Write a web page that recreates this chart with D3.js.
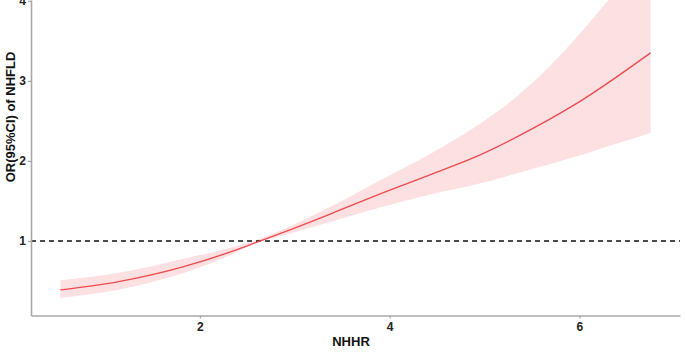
<!DOCTYPE html>
<html>
<head>
<meta charset="utf-8">
<script src="https://cdn.jsdelivr.net/npm/d3@7"></script>
<style>
  body { margin: 0; background: #fff; }
  svg { display: block; font-family: "Liberation Sans", Arial, sans-serif; }
</style>
</head>
<body>
<div id="chart"></div>
<script>
    // NHHR values along the curve and the fitted OR with its 95% CI
    const nhhr   = [0.53, 1.13, 1.83, 2.36, 2.59, 2.85, 3.38, 3.90, 4.43, 4.96, 5.50, 5.83, 6.04, 6.27, 6.75];
    const orFit  = [0.39, 0.49, 0.68, 0.88, 0.98, 1.095, 1.34, 1.59, 1.83, 2.08, 2.40, 2.62, 2.77, 2.95, 3.35];
    const ciLow  = [0.29, 0.39, 0.60, 0.845, 0.975, 1.06, 1.24, 1.42, 1.58, 1.72, 1.90, 2.01, 2.08, 2.17, 2.35];
    const ciHigh = [0.51, 0.60, 0.78, 0.93, 1.01, 1.13, 1.43, 1.76, 2.09, 2.47, 2.97, 3.36, 3.64, 3.96, 4.68];

    const xTicks = [2, 4, 6];
    const yTicks = [1, 2, 3, 4];
    const refLine = 1;

    const width = 685, height = 352;
    const plot = { left: 31, right: 680, top: 0, bottom: 315.5 };

    const rows = nhhr.map((x, i) => ({ x: x, or: orFit[i], lo: ciLow[i], hi: ciHigh[i] }));

    const svg = d3.select("#chart")
        .append("svg")
        .attr("width", width)
        .attr("height", height);

    const x = d3.scaleLinear().domain([0.22, 7.06]).range([plot.left, plot.right]);
    const y = d3.scaleLinear().domain([0.07, 4.01]).range([plot.bottom, plot.top]);

    svg.append("clipPath")
        .attr("id", "panel")
        .append("rect")
        .attr("x", plot.left)
        .attr("y", plot.top)
        .attr("width", plot.right - plot.left)
        .attr("height", plot.bottom - plot.top);

    const panel = svg.append("g").attr("clip-path", "url(#panel)");

    // CI ribbon
    panel.append("path")
        .datum(rows)
        .attr("fill", "#FDE0E2")
        .attr("d", d3.area()
            .curve(d3.curveMonotoneX)
            .x(d => x(d.x))
            .y0(d => y(d.lo))
            .y1(d => y(d.hi)));

    // reference line at OR = 1
    panel.append("line")
        .attr("x1", plot.left)
        .attr("x2", plot.right)
        .attr("y1", y(refLine))
        .attr("y2", y(refLine))
        .attr("stroke", "#111")
        .attr("stroke-width", 1.5)
        .attr("stroke-dasharray", "5,4");

    // fitted curve
    panel.append("path")
        .datum(rows)
        .attr("fill", "none")
        .attr("stroke", "#EE4B50")
        .attr("stroke-width", 1.4)
        .attr("d", d3.line()
            .curve(d3.curveMonotoneX)
            .x(d => x(d.x))
            .y(d => y(d.or)));

    // axes
    const xAxis = svg.append("g")
        .attr("transform", `translate(0,${plot.bottom})`)
        .call(d3.axisBottom(x).tickValues(xTicks).tickFormat(d3.format("d"))
            .tickSize(3).tickPadding(4).tickSizeOuter(0));

    const yAxis = svg.append("g")
        .attr("transform", `translate(${plot.left},0)`)
        .call(d3.axisLeft(y).tickValues(yTicks).tickFormat(d3.format("d"))
            .tickSize(3).tickPadding(2).tickSizeOuter(0));

    [xAxis, yAxis].forEach(g => {
        g.select(".domain").attr("stroke", "#A8A8A8").attr("stroke-width", 1.6);
        g.selectAll(".tick line").attr("stroke", "#A8A8A8").attr("stroke-width", 1.2);
        g.selectAll(".tick text")
            .attr("fill", "#222")
            .style("font-family", "Liberation Sans, Arial, sans-serif")
            .style("font-size", "12px")
            .style("font-weight", "bold");
    });

    // axis titles
    svg.append("text")
        .attr("x", 351)
        .attr("y", 341)
        .attr("text-anchor", "middle")
        .attr("dominant-baseline", "central")
        .attr("fill", "#111")
        .style("font-size", "13px")
        .style("font-weight", "bold")
        .text("NHHR");

    svg.append("text")
        .attr("transform", "translate(10,117) rotate(-90)")
        .attr("text-anchor", "middle")
        .attr("dominant-baseline", "central")
        .attr("fill", "#111")
        .style("font-size", "13px")
        .style("font-weight", "bold")
        .text("OR(95%CI) of NHFLD");
</script>
</body>
</html>
